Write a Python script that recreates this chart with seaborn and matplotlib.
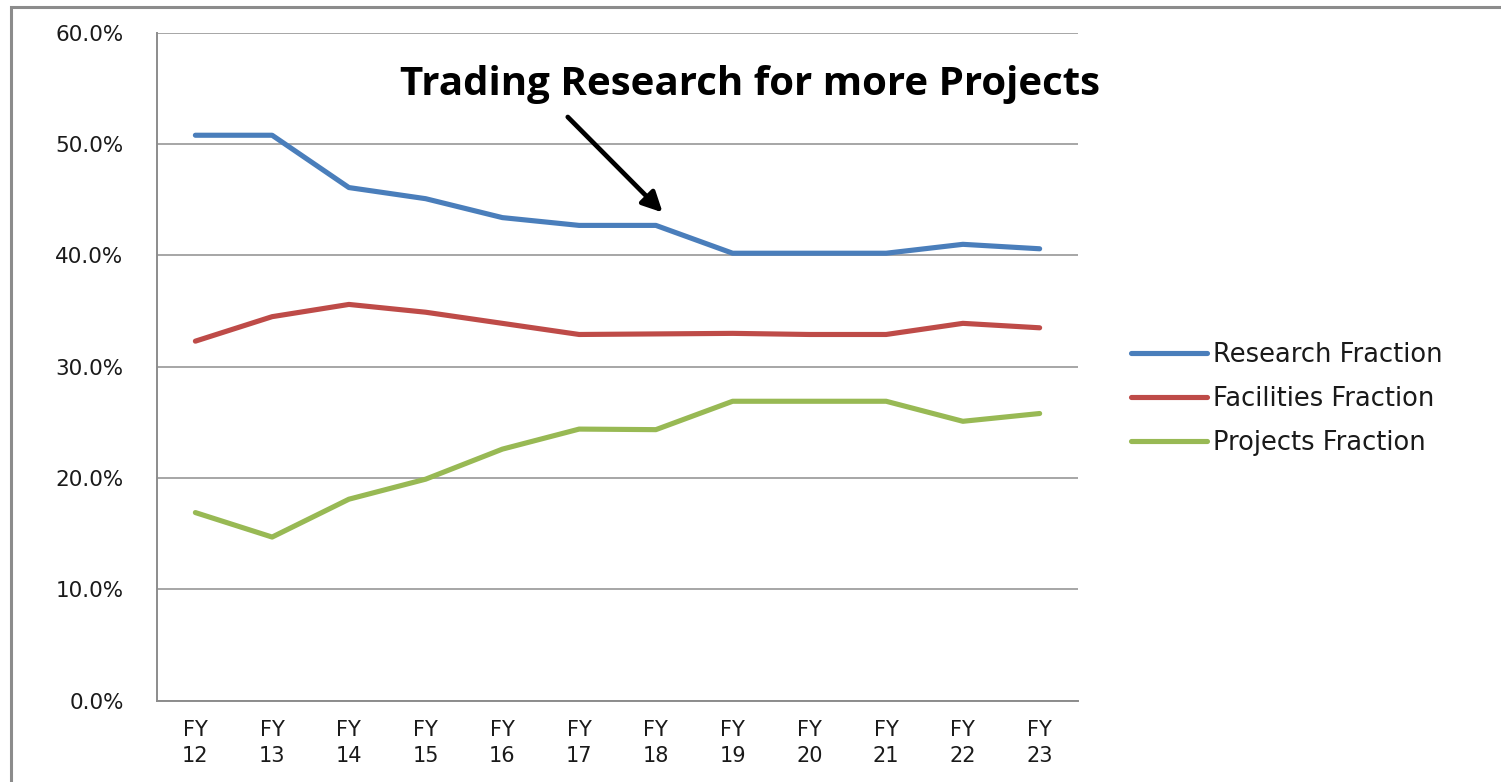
"""
Research / Facilities / Projects fractions by fiscal year
"""

import matplotlib.pyplot as plt
import seaborn as sns
import pandas as pd
import numpy as np
from matplotlib.patches import Rectangle

# data
fiscal_years = [12, 13, 14, 15, 16, 17, 18, 19, 20, 21, 22, 23]
research = [50.8, 50.8, 46.1, 45.1, 43.4, 42.7, 42.7, 40.2, 40.2, 40.2, 41.0, 40.6]
facilities = [32.3, 34.5, 35.6, 34.9, 33.9, 32.9, 32.95, 33.0, 32.9, 32.9, 33.9, 33.5]
projects = [16.9, 14.7, 18.1, 19.9, 22.6, 24.4, 24.35, 26.9, 26.9, 26.9, 25.1, 25.8]
series_names = ["Research Fraction", "Facilities Fraction", "Projects Fraction"]
y_ticks = [0, 10, 20, 30, 40, 50, 60]
title_text = "Trading Research for more Projects"

colors = {"Research Fraction": "#4a7ebb",
          "Facilities Fraction": "#be4b48",
          "Projects Fraction": "#98b954"}

df = pd.DataFrame({
    "year": fiscal_years * 3,
    "value": research + facilities + projects,
    "series": np.repeat(series_names, len(fiscal_years)),
})

sns.set_style("white")
plt.rcParams['font.family'] = ['DejaVu Sans']

fig = plt.figure(figsize=(15.01, 7.82), dpi=100)
ax = fig.add_axes([0.1046, 0.104, 0.6136, 0.854])

sns.lineplot(data=df, x="year", y="value", hue="series", hue_order=series_names,
             palette=colors, linewidth=3.7, ax=ax, sort=False)

# axes styling
ax.set_xlim(fiscal_years[0] - 0.5, fiscal_years[-1] + 0.5)
ax.set_ylim(0, 60)
ax.set_yticks(y_ticks)
ax.set_yticklabels([f"{v:.1f}%" for v in y_ticks], fontsize=15.5, color="#1a1a1a")
ax.yaxis.grid(True, color="#a6a6a6", linewidth=1.4)
ax.set_axisbelow(True)
ax.tick_params(axis="y", length=8, width=1.2, color="#8c8c8c", pad=16)

ax.set_xticks(fiscal_years)
ax.set_xticklabels([f"FY\n{y}" for y in fiscal_years], fontsize=15,
                   color="#1a1a1a", linespacing=1.35)
ax.set_xticks(np.arange(fiscal_years[0] - 0.5, fiscal_years[-1] + 1), minor=True)
ax.tick_params(axis="x", which="major", length=0, pad=14)
ax.tick_params(axis="x", which="minor", length=4.5, width=1.2, color="#8c8c8c",
               direction="out")
ax.set_xlabel("")
ax.set_ylabel("")

for side in ["top", "right"]:
    ax.spines[side].set_visible(False)
for side in ["left", "bottom"]:
    ax.spines[side].set_color("#8c8c8c")
    ax.spines[side].set_linewidth(1.4)

# legend on the right
handles, labels = ax.get_legend_handles_labels()
leg = ax.legend(handles, labels, loc="center left", bbox_to_anchor=(0.7535, 0.49),
                bbox_transform=fig.transFigure, frameon=False, fontsize=18.5,
                handlelength=2.95, handletextpad=0.25, labelspacing=0.7,
                borderpad=0, borderaxespad=0)
for t in leg.get_texts():
    t.set_color("#1a1a1a")

# annotation
ax.text(0.644, 0.922, title_text, transform=ax.transAxes, ha="center", va="center",
        fontsize=29, fontweight="bold", color="black",
        family=["Open Sans", "DejaVu Sans"])
ax.annotate("", xy=(0.549, 0.731), xytext=(0.446, 0.874),
            xycoords="axes fraction", textcoords="axes fraction",
            arrowprops=dict(arrowstyle="-|>", lw=3.4, color="black",
                            mutation_scale=30, shrinkA=0, shrinkB=0))

# outer frame of the slide
fig.add_artist(Rectangle((11 / 1501, -0.05), 1.2, 1.0414, transform=fig.transFigure,
                         fill=False, edgecolor="#8c8c8c", linewidth=2.2))

fig.savefig("out.png", dpi=100)
